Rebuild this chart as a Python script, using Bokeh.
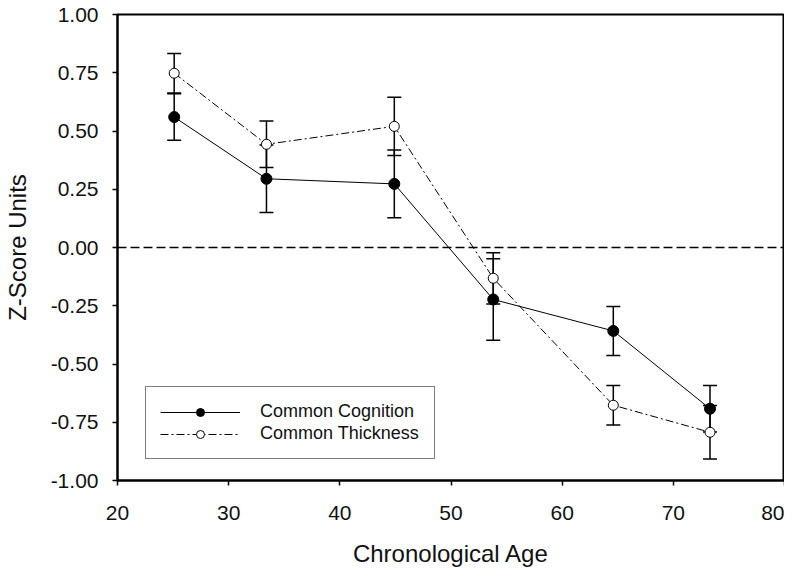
from bokeh.plotting import figure
from bokeh.models import (ColumnDataSource, Range1d, FixedTicker, Whisker, TeeHead,
                          Span, Legend, LegendItem, CustomJSTickFormatter)
from bokeh.embed import file_html
from bokeh.resources import INLINE

# ---- data ----
ages = [25.1, 33.4, 44.9, 53.8, 64.6, 73.3]
cognition = [0.56, 0.295, 0.273, -0.223, -0.358, -0.692]
cognition_err = [0.10, 0.145, 0.145, 0.175, 0.105, 0.10]
thickness = [0.748, 0.443, 0.520, -0.132, -0.677, -0.793]
thickness_err = [0.085, 0.10, 0.125, 0.11, 0.085, 0.115]
x_ticks = [20, 30, 40, 50, 60, 70, 80]
y_ticks = [-1.0, -0.75, -0.5, -0.25, 0.0, 0.25, 0.5, 0.75, 1.0]
series_names = ["Common Cognition", "Common Thickness"]

FONT = "Liberation Sans"

cog_src = ColumnDataSource(dict(
    x=ages, y=cognition,
    upper=[v + e for v, e in zip(cognition, cognition_err)],
    lower=[v - e for v, e in zip(cognition, cognition_err)]))
thk_src = ColumnDataSource(dict(
    x=ages, y=thickness,
    upper=[v + e for v, e in zip(thickness, thickness_err)],
    lower=[v - e for v, e in zip(thickness, thickness_err)]))

p = figure(width=784, height=569, output_backend="svg", toolbar_location=None,
           x_range=Range1d(20, 80), y_range=Range1d(-1, 1),
           min_border_left=109, min_border_right=0, min_border_top=14, min_border_bottom=89)
p.grid.visible = False
p.outline_line_color = "black"
p.outline_line_width = 2

# zero reference line
p.add_layout(Span(location=0, dimension="width", line_color="black",
                  line_width=1.5, line_dash="9 4", level="underlay"))

# error bars
for src in (cog_src, thk_src):
    w = Whisker(base="x", upper="upper", lower="lower", source=src, dimension="height",
                line_color="black", line_width=1.5, level="underlay",
                upper_head=TeeHead(size=14, line_color="black", line_width=1.5),
                lower_head=TeeHead(size=14, line_color="black", line_width=1.5))
    p.add_layout(w)

cog_line = p.line("x", "y", source=cog_src, line_color="black", line_width=1)
thk_line = p.line("x", "y", source=thk_src, line_color="black", line_width=1,
                  line_dash="8 3 2 3")
cog_pts = p.scatter("x", "y", source=cog_src, size=11, marker="circle",
                    fill_color="black", line_color="black", line_width=1)
thk_pts = p.scatter("x", "y", source=thk_src, size=10, marker="circle",
                    fill_color="white", line_color="black", line_width=1)

# axes
for ax in (p.xaxis[0], p.yaxis[0]):
    ax.axis_line_color = "black"
    ax.axis_line_width = 2
    ax.major_tick_line_color = "black"
    ax.major_tick_line_width = 1.5
    ax.major_tick_out = 5
    ax.major_tick_in = 0
    ax.minor_tick_line_color = None
    ax.major_label_text_font = FONT
    ax.major_label_text_font_size = "21px"
    ax.major_label_text_color = "#111111"
    ax.axis_label_text_font = FONT
    ax.axis_label_text_font_size = "24px"
    ax.axis_label_text_font_style = "normal"
    ax.axis_label_text_color = "#111111"

p.xaxis.major_label_standoff = 20
p.yaxis.major_label_standoff = 14
p.xaxis.ticker = FixedTicker(ticks=x_ticks)
p.yaxis.ticker = FixedTicker(ticks=y_ticks)
p.yaxis.formatter = CustomJSTickFormatter(code="return tick.toFixed(2);")
p.xaxis.axis_label = "Chronological Age"
p.yaxis.axis_label = "Z-Score Units"
p.xaxis.axis_label_standoff = 17
p.yaxis.axis_label_standoff = 17

legend = Legend(items=[
    LegendItem(label=series_names[0], renderers=[cog_line, cog_pts]),
    LegendItem(label=series_names[1], renderers=[thk_line, thk_pts]),
], location=(28, 21))
legend.border_line_color = "black"
legend.border_line_width = 1
legend.background_fill_color = "white"
legend.background_fill_alpha = 1
legend.label_text_font = FONT
legend.label_text_font_size = "18px"
legend.label_text_color = "#111111"
legend.glyph_width = 80
legend.glyph_height = 20
legend.label_height = 20
legend.label_width = 160
legend.label_standoff = 20
legend.spacing = 1
legend.padding = 14
legend.margin = 0
p.add_layout(legend, "center")

open("out.html", "w").write(file_html(p, INLINE))
